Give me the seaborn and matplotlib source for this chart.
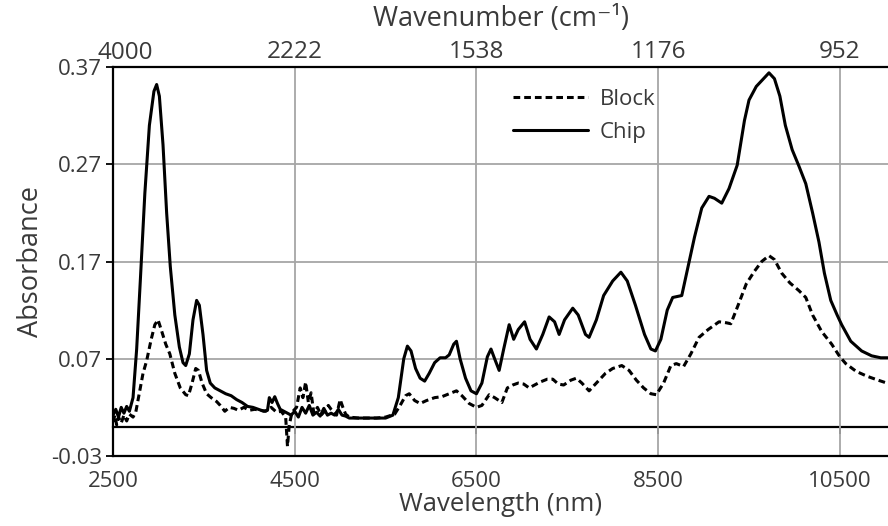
import numpy as np
import pandas as pd
import seaborn as sns
import matplotlib
matplotlib.use("Agg")
import matplotlib.pyplot as plt

# spectra (wavelength in nm, absorbance)
chip_wl = [2500, 2530, 2560, 2590, 2620, 2650, 2680, 2720, 2760, 2800, 2850, 2900, 2950, 2980,
           3010, 3050, 3090, 3130, 3180, 3230, 3270, 3300, 3340, 3380, 3420, 3450, 3490, 3530,
           3570, 3620, 3680, 3740, 3800, 3860, 3920, 3980, 4040, 4100, 4160, 4200, 4220, 4250,
           4280, 4310, 4340, 4380, 4420, 4460, 4500, 4540, 4580, 4620, 4660, 4700, 4740, 4780,
           4820, 4860, 4900, 4940, 4980, 5020, 5060, 5100, 5200, 5300, 5400, 5500, 5580, 5640,
           5700, 5740, 5780, 5830, 5880, 5930, 5980, 6040, 6100, 6160, 6200, 6250, 6280, 6320,
           6380, 6440, 6500, 6560, 6620, 6660, 6700, 6750, 6800, 6860, 6910, 6960, 7030, 7090,
           7160, 7230, 7300, 7360, 7410, 7470, 7560, 7620, 7700, 7740, 7820, 7900, 8000, 8090,
           8160, 8250, 8350, 8420, 8470, 8530, 8600, 8660, 8760, 8830, 8900, 8980, 9060, 9120,
           9200, 9280, 9370, 9450, 9500, 9580, 9660, 9720, 9780, 9840, 9900, 9975, 10050, 10125,
           10200, 10270, 10330, 10400, 10470, 10520, 10620, 10740, 10850, 10950, 11050]
chip_abs = [0.012, 0.018, 0.010, 0.020, 0.014, 0.021, 0.016, 0.030, 0.080, 0.150, 0.240, 0.310,
            0.345, 0.352, 0.340, 0.290, 0.220, 0.165, 0.115, 0.082, 0.066, 0.063, 0.075, 0.110,
            0.130, 0.125, 0.095, 0.058, 0.045, 0.040, 0.037, 0.034, 0.032, 0.028, 0.025, 0.021,
            0.020, 0.018, 0.016, 0.017, 0.030, 0.025, 0.031, 0.024, 0.018, 0.016, 0.014, 0.012,
            0.016, 0.010, 0.020, 0.014, 0.022, 0.012, 0.015, 0.011, 0.019, 0.012, 0.014, 0.012,
            0.018, 0.012, 0.011, 0.009, 0.009, 0.009, 0.009, 0.009, 0.012, 0.030, 0.070, 0.083,
            0.078, 0.060, 0.050, 0.047, 0.055, 0.066, 0.071, 0.071, 0.074, 0.085, 0.088, 0.070,
            0.050, 0.037, 0.034, 0.045, 0.072, 0.080, 0.070, 0.058, 0.080, 0.105, 0.090, 0.100,
            0.108, 0.090, 0.080, 0.095, 0.113, 0.108, 0.095, 0.110, 0.122, 0.115, 0.095, 0.092,
            0.110, 0.135, 0.150, 0.159, 0.150, 0.125, 0.095, 0.080, 0.078, 0.090, 0.120, 0.133,
            0.135, 0.165, 0.195, 0.225, 0.237, 0.235, 0.230, 0.245, 0.269, 0.315, 0.336, 0.350,
            0.358, 0.364, 0.358, 0.340, 0.310, 0.285, 0.268, 0.250, 0.220, 0.190, 0.158, 0.130,
            0.115, 0.105, 0.088, 0.078, 0.073, 0.071, 0.071]

block_wl = [2500, 2520, 2540, 2560, 2590, 2620, 2650, 2680, 2720, 2750, 2790, 2830, 2870, 2920,
            2960, 2995, 3030, 3080, 3125, 3180, 3240, 3300, 3330, 3370, 3410, 3440, 3480, 3530,
            3580, 3640, 3680, 3730, 3780, 3830, 3880, 3940, 4000, 4060, 4120, 4180, 4240, 4300,
            4350, 4400, 4420, 4440, 4470, 4520, 4560, 4590, 4620, 4650, 4680, 4710, 4750, 4790,
            4830, 4870, 4900, 4960, 5000, 5030, 5060, 5100, 5200, 5300, 5400, 5500, 5600, 5660,
            5720, 5760, 5820, 5880, 5950, 6040, 6120, 6200, 6280, 6340, 6420, 6500, 6560, 6640,
            6700, 6780, 6840, 6900, 6960, 7020, 7080, 7140, 7200, 7280, 7340, 7400, 7460, 7540,
            7600, 7660, 7740, 7820, 7920, 8000, 8100, 8180, 8260, 8340, 8420, 8480, 8560, 8640,
            8700, 8780, 8860, 8950, 9050, 9170, 9250, 9300, 9380, 9470, 9560, 9640, 9720, 9780,
            9860, 9950, 10050, 10125, 10200, 10300, 10410, 10500, 10565, 10680, 10800, 10920, 11050]
block_abs = [0.005, 0.012, 0.002, 0.010, 0.004, 0.012, 0.006, 0.013, 0.010, 0.015, 0.035, 0.055,
             0.068, 0.090, 0.105, 0.110, 0.100, 0.085, 0.075, 0.055, 0.040, 0.033, 0.032, 0.045,
             0.060, 0.058, 0.045, 0.034, 0.030, 0.026, 0.022, 0.016, 0.020, 0.019, 0.017, 0.020,
             0.017, 0.018, 0.017, 0.016, 0.020, 0.015, 0.016, 0.010, -0.020, 0.002, 0.015, 0.020,
             0.040, 0.030, 0.046, 0.025, 0.035, 0.014, 0.020, 0.012, 0.016, 0.022, 0.018, 0.012,
             0.028, 0.020, 0.013, 0.010, 0.009, 0.009, 0.009, 0.010, 0.013, 0.022, 0.032, 0.034,
             0.027, 0.024, 0.027, 0.030, 0.031, 0.034, 0.037, 0.032, 0.024, 0.020, 0.022, 0.033,
             0.030, 0.025, 0.040, 0.043, 0.045, 0.044, 0.040, 0.043, 0.046, 0.049, 0.049, 0.044,
             0.043, 0.048, 0.050, 0.045, 0.037, 0.045, 0.055, 0.060, 0.063, 0.058, 0.048, 0.040,
             0.034, 0.033, 0.045, 0.063, 0.065, 0.062, 0.075, 0.092, 0.100, 0.108, 0.107, 0.106,
             0.125, 0.147, 0.160, 0.170, 0.176, 0.172, 0.158, 0.148, 0.140, 0.133, 0.115, 0.098,
             0.085, 0.072, 0.065, 0.057, 0.052, 0.048, 0.044]

x_ticks = [2500, 4500, 6500, 8500, 10500]
top_labels = ['4000', '2222', '1538', '1176', '952']
y_ticks = [-0.03, 0.07, 0.17, 0.27, 0.37]

df = pd.concat([
    pd.DataFrame({'wl': block_wl, 'abs': block_abs, 'sample': 'Block'}),
    pd.DataFrame({'wl': chip_wl, 'abs': chip_abs, 'sample': 'Chip'}),
])

sns.set_style('white')
plt.rcParams['font.family'] = ['Open Sans', 'DejaVu Sans']
txt = '#3a3a3a'
plt.rcParams['text.color'] = txt
plt.rcParams['axes.labelcolor'] = txt
plt.rcParams['xtick.labelcolor'] = txt
plt.rcParams['ytick.labelcolor'] = txt

fig = plt.figure(figsize=(8.88, 5.26), dpi=100)
ax = fig.add_axes([0.1273, 0.1331, 0.8727, 0.7395])

sns.lineplot(data=df, x='wl', y='abs', hue='sample', style='sample',
             hue_order=['Block', 'Chip'], style_order=['Block', 'Chip'],
             palette={'Block': 'black', 'Chip': 'black'},
             dashes={'Block': (2.2, 1.3), 'Chip': ''},
             linewidth=2.2, ax=ax, legend=True)

ax.set_xlim(2500, 11030)
ax.set_ylim(-0.03, 0.37)
ax.set_xticks(x_ticks)
ax.set_yticks(y_ticks)
ax.set_yticklabels([f'{v:.2f}' for v in y_ticks], fontsize=16)
ax.set_xticklabels([str(v) for v in x_ticks], fontsize=16)
ax.grid(True, color='#a6a6a6', linewidth=1.3)
ax.tick_params(axis='x', length=0, pad=11)
ax.tick_params(axis='y', length=5, width=1.3, color='black', direction='out', left=True, pad=3)

for side in ['left', 'bottom', 'top']:
    ax.spines[side].set_color('black')
    ax.spines[side].set_linewidth(1.6)
ax.spines['right'].set_visible(False)

ax.set_xlabel('Wavelength (nm)', fontsize=18.5, labelpad=0)
ax.set_ylabel('Absorbance', fontsize=19.5, labelpad=4)

# zero line with its tick marks
zero = ax.secondary_xaxis(0.03 / 0.40)
zero.set_xticks(x_ticks)
zero.set_xticklabels([])
zero.tick_params(length=5, width=1.3, color='black', direction='out')
zero.spines['bottom'].set_color('black')
zero.spines['bottom'].set_linewidth(1.6)

# wavenumber axis on top; the first label sits a little right of the corner
top = ax.twiny()
top.set_xlim(ax.get_xlim())
top.set_xticks(x_ticks)
top.set_xticklabels([''] + top_labels[1:], fontsize=17.5)
top.annotate(top_labels[0], xy=(x_ticks[0], 1), xycoords=('data', 'axes fraction'),
             xytext=(12, 2), textcoords='offset pixels', ha='center', va='bottom',
             fontsize=17.5, color=txt)
top.tick_params(length=0, pad=2)
top.set_xlabel('Wavenumber (cm⁻¹)', fontsize=19.5, labelpad=10)
for s in top.spines.values():
    s.set_visible(False)

leg = ax.legend(loc='upper left', bbox_to_anchor=(0.49, 0.995), frameon=False,
                fontsize=16, handlelength=3.4, handletextpad=0.5, labelspacing=0.55)

fig.savefig('out.png', dpi=100)
